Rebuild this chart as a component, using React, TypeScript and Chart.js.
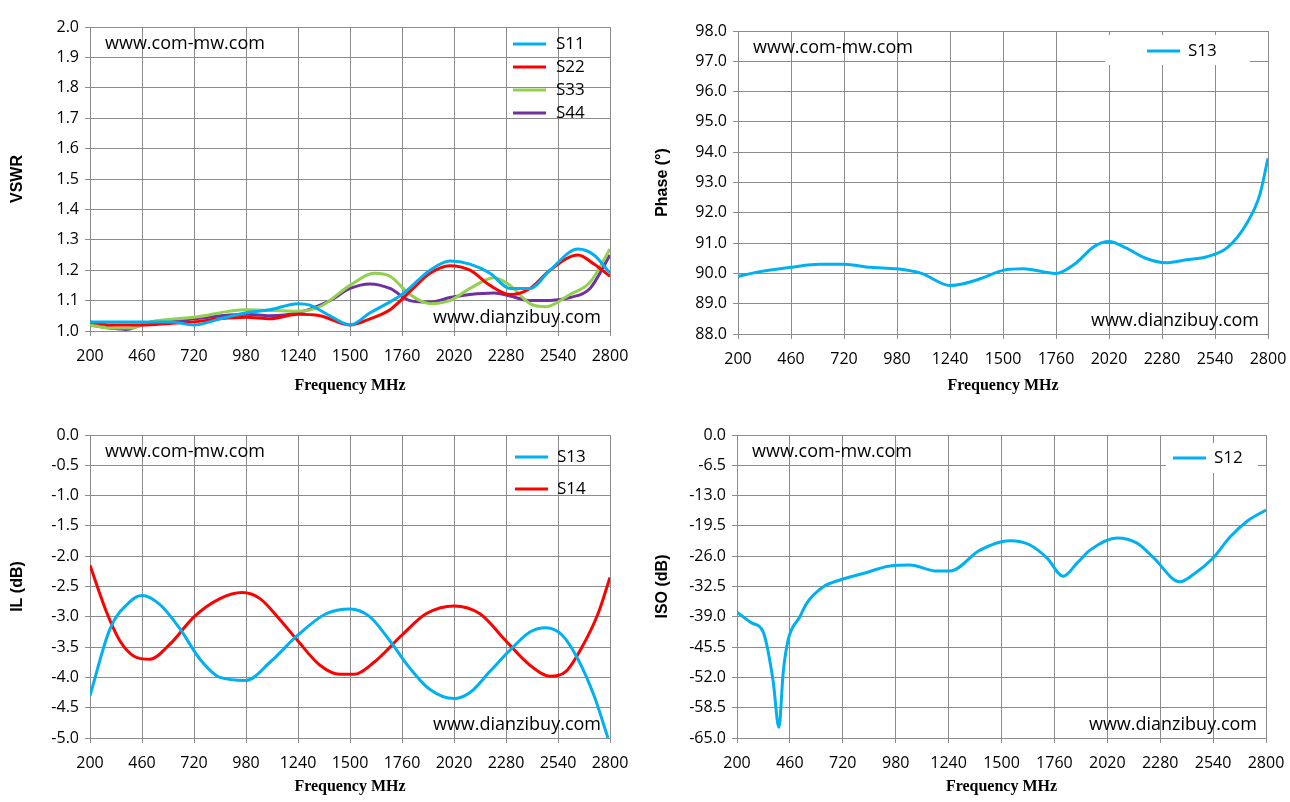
import React, { useEffect, useRef } from "react";
import { Chart, registerables } from "chart.js";
Chart.register(...registerables);

const BLUE = "#00B0F0", RED = "#FF0000", GREEN = "#92D050", PURPLE = "#7030A0";

const s11X = [200,300,460,600,720,850,980,1100,1240,1300,1400,1500,1600,1760,1900,2000,2100,2200,2300,2400,2500,2640,2720,2800];
const s11Y = [1.03,1.03,1.03,1.03,1.02,1.04,1.06,1.07,1.09,1.085,1.05,1.02,1.06,1.12,1.2,1.23,1.22,1.19,1.14,1.14,1.2,1.27,1.25,1.19];
const s22X = [200,300,460,600,720,850,980,1100,1240,1350,1500,1600,1700,1800,1900,2000,2100,2200,2300,2400,2500,2640,2720,2800];
const s22Y = [1.03,1.02,1.02,1.025,1.03,1.04,1.045,1.04,1.055,1.05,1.02,1.04,1.07,1.13,1.19,1.215,1.2,1.15,1.12,1.14,1.2,1.25,1.22,1.18];
const s33X = [200,300,400,500,720,980,1240,1350,1500,1620,1700,1800,1900,2000,2100,2220,2300,2400,2480,2600,2700,2800];
const s33Y = [1.02,1.01,1.01,1.03,1.045,1.07,1.065,1.08,1.15,1.19,1.18,1.12,1.09,1.1,1.14,1.175,1.15,1.09,1.08,1.12,1.16,1.27];
const s44X = [200,300,380,460,600,720,980,1100,1240,1400,1500,1600,1700,1800,1900,2000,2100,2220,2300,2400,2500,2600,2700,2800];
const s44Y = [1.02,1.01,1.005,1.02,1.03,1.04,1.055,1.05,1.06,1.1,1.14,1.155,1.14,1.1,1.095,1.11,1.12,1.125,1.115,1.1,1.1,1.11,1.14,1.25];

const phX = [200,300,460,600,720,850,980,1100,1240,1300,1400,1500,1600,1700,1760,1850,1950,2020,2100,2200,2300,2400,2500,2600,2700,2760,2800];
const phY = [89.9,90.05,90.2,90.3,90.3,90.2,90.15,90.0,89.6,89.65,89.85,90.1,90.15,90.05,90.0,90.3,90.9,91.05,90.85,90.5,90.35,90.45,90.55,90.85,91.7,92.6,93.8];

const il13X = [200,300,400,460,550,650,750,850,980,1100,1240,1380,1500,1600,1700,1800,1900,2020,2100,2200,2300,2400,2480,2560,2640,2720,2790];
const il13Y = [-4.3,-3.2,-2.75,-2.65,-2.8,-3.2,-3.7,-4.0,-4.05,-3.75,-3.3,-2.95,-2.87,-3.0,-3.4,-3.85,-4.2,-4.35,-4.25,-3.9,-3.55,-3.25,-3.18,-3.3,-3.7,-4.3,-5.0];
const il14X = [200,280,350,420,500,600,720,850,960,1050,1150,1240,1350,1450,1520,1620,1760,1880,2020,2150,2280,2400,2500,2580,2660,2740,2800];
const il14Y = [-2.15,-2.9,-3.4,-3.65,-3.7,-3.45,-3.0,-2.7,-2.6,-2.7,-3.05,-3.4,-3.8,-3.95,-3.95,-3.75,-3.3,-2.95,-2.82,-2.95,-3.4,-3.8,-3.98,-3.9,-3.5,-2.95,-2.35];

const isoX = [200,272,329,377,406,427,451,509,544,623,706,820,952,1050,1183,1247,1394,1542,1640,1724,1803,1871,1935,2068,2166,2245,2377,2441,2540,2623,2707,2800];
const isoY = [-38,-40.3,-42.3,-52.6,-62.7,-51,-44,-39,-36,-32.6,-31.1,-29.7,-28.1,-27.9,-29.2,-29.2,-24.7,-22.7,-23.6,-26.4,-30.3,-27.5,-24.7,-22.1,-23.2,-26.2,-31.5,-30.0,-26.4,-21.9,-18.5,-16.1];

const pts = (xs: number[], ys: number[]) => xs.map((x, i) => ({ x, y: ys[i] }));

type Cfg = {
  left: number; top: number; w: number; area: [number, number, number, number];
  yMin: number; yMax: number; yStep: number; yTitle: string; dec: number;
  series: { label: string; color: string; data: { x: number; y: number }[] }[];
  legend: { lineL: number; textL: number; y0: number; dy: number; box?: [number, number, number, number] };
};

const cfgs: Cfg[] = [
  { left: 0, top: 0, w: 645, area: [90, 27, 610, 331], yMin: 1, yMax: 2, yStep: 0.1, yTitle: "VSWR", dec: 1,
    series: [
      { label: "S11", color: BLUE, data: pts(s11X, s11Y) },
      { label: "S22", color: RED, data: pts(s22X, s22Y) },
      { label: "S33", color: GREEN, data: pts(s33X, s33Y) },
      { label: "S44", color: PURPLE, data: pts(s44X, s44Y) },
    ],
    legend: { lineL: 97, textL: 54, y0: 17, dy: 23 } },
  { left: 645, top: 0, w: 680, area: [93, 31, 623, 334], yMin: 88, yMax: 98, yStep: 1, yTitle: "Phase (°)", dec: 1,
    series: [{ label: "S13", color: BLUE, data: pts(phX, phY) }],
    legend: { lineL: 121, textL: 80, y0: 20, dy: 0, box: [163, 4, 18, 30] } },
  { left: 0, top: 401, w: 645, area: [90, 34, 610, 337], yMin: -5, yMax: 0, yStep: 0.5, yTitle: "IL (dB)", dec: 1,
    series: [
      { label: "S13", color: BLUE, data: pts(il13X, il13Y) },
      { label: "S14", color: RED, data: pts(il14X, il14Y) },
    ],
    legend: { lineL: 95, textL: 53, y0: 22, dy: 32 } },
  { left: 645, top: 401, w: 680, area: [92, 34, 621, 337], yMin: -65, yMax: 0, yStep: 6.5, yTitle: "ISO (dB)", dec: 1,
    series: [{ label: "S12", color: BLUE, data: pts(isoX, isoY) }],
    legend: { lineL: 93, textL: 52, y0: 23, dy: 0, box: [100, 8, 8, 30] } },
];

function makeChart(canvas: HTMLCanvasElement, c: Cfg) {
  const [l, t, r, b] = c.area;
  const overlay = {
    id: "overlay",
    afterDatasetsDraw(chart: any) {
      const ctx = chart.ctx; const a = chart.chartArea;
      ctx.save();
      ctx.textBaseline = "middle";
      ctx.textAlign = "left";
      const lg = c.legend;
      if (lg.box) {
        ctx.fillStyle = "#fff";
        ctx.fillRect(a.right - lg.box[0], a.top + lg.box[1], lg.box[0] - lg.box[2], lg.box[3]);
      }
      ctx.fillStyle = "#000";
      ctx.font = "18px 'Open Sans', sans-serif";
      ctx.fillText("www.com-mw.com", a.left + 15, a.top + 17);
      ctx.textAlign = "right";
      ctx.fillText("www.dianzibuy.com", a.right - 9, a.bottom - 13);
      ctx.textAlign = "left";
      ctx.font = "17px 'Open Sans', sans-serif";
      c.series.forEach((s, i) => {
        const y = a.top + lg.y0 + i * lg.dy;
        ctx.strokeStyle = s.color; ctx.lineWidth = 3;
        ctx.beginPath(); ctx.moveTo(a.right - lg.lineL, y); ctx.lineTo(a.right - lg.lineL + 33, y); ctx.stroke();
        ctx.fillStyle = "#000";
        ctx.fillText(s.label, a.right - lg.textL, y);
      });
      ctx.restore();
    },
  };
  const tickFont = { family: "'Open Sans', sans-serif", size: 16 };
  return new Chart(canvas, {
    type: "line",
    data: {
      datasets: c.series.map((s) => ({
        label: s.label, data: s.data, borderColor: s.color, backgroundColor: s.color,
        borderWidth: 3, pointRadius: 0, tension: 0.4, cubicInterpolationMode: "monotone" as const,
      })),
    },
    options: {
      animation: false, responsive: false, maintainAspectRatio: false,
      layout: { padding: { left: 0, top: t, right: c.w - r, bottom: 0 } },
      plugins: { legend: { display: false }, tooltip: { enabled: false } },
      scales: {
        x: {
          type: "linear", min: 200, max: 2800,
          afterFit: (s: any) => { s.height = 401 - b; },
          ticks: { stepSize: 260, color: "#000", font: tickFont, maxRotation: 0, padding: 11,
            callback: (v: any) => String(v) },
          grid: { color: "#8c8c8c", lineWidth: 1, tickLength: 5 },
          border: { color: "#8c8c8c" },
          title: { display: true, text: "Frequency MHz", color: "#000", font: { family: "'Liberation Serif', serif", size: 16, weight: "bold" }, padding: { top: 0, bottom: 6 } },
        },
        y: {
          min: c.yMin, max: c.yMax,
          afterFit: (s: any) => { s.width = l; },
          ticks: { stepSize: c.yStep, color: "#000", font: tickFont, padding: 6,
            callback: (v: any) => Number(v).toFixed(c.dec) },
          grid: { color: "#8c8c8c", lineWidth: 1, tickLength: 5 },
          border: { color: "#8c8c8c" },
          title: { display: true, text: c.yTitle, color: "#000", font: { family: "'Liberation Sans', Arial", size: 16, weight: "bold" }, padding: { top: 8, bottom: 2 } },
        },
      },
    },
    plugins: [overlay],
  } as any);
}

function Panel({ c }: { c: Cfg }) {
  const ref = useRef<HTMLCanvasElement>(null);
  useEffect(() => {
    const ch = makeChart(ref.current!, c);
    return () => ch.destroy();
  }, []);
  return (
    <canvas ref={ref} width={c.w} height={401}
      style={{ position: "absolute", left: c.left, top: c.top, width: c.w, height: 401 }} />
  );
}

export default function App() {
  return (
    <div style={{ position: "fixed", left: 0, top: 0, width: 1290, height: 802, background: "#fff", overflow: "hidden" }}>
      {cfgs.map((c, i) => <Panel key={i} c={c} />)}
    </div>
  );
}
